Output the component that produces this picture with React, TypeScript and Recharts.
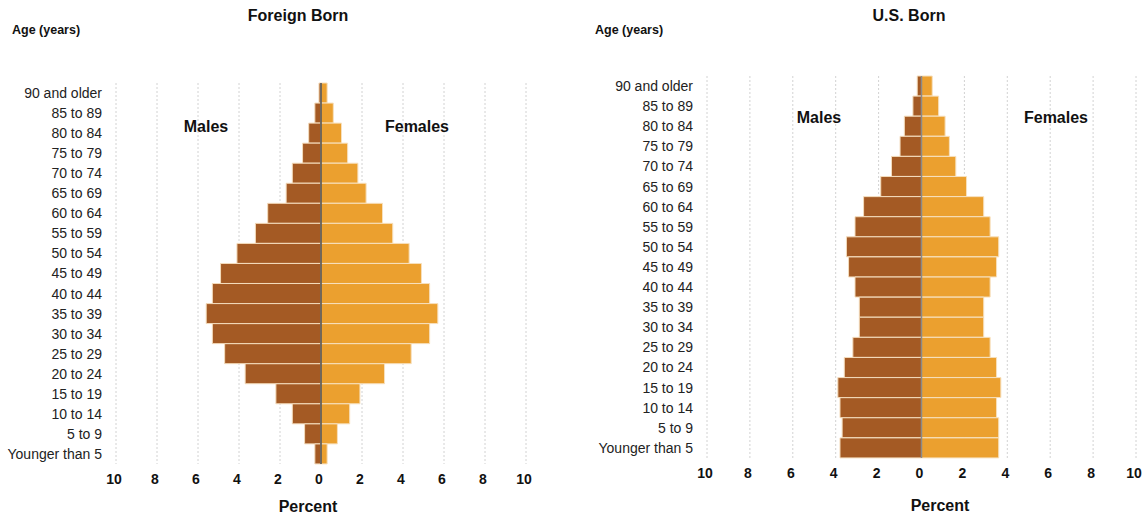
import React from 'react';
import { BarChart, Bar, XAxis, YAxis, CartesianGrid, ReferenceLine } from 'recharts';

const ages = [
  '90 and older', '85 to 89', '80 to 84', '75 to 79', '70 to 74', '65 to 69',
  '60 to 64', '55 to 59', '50 to 54', '45 to 49', '40 to 44', '35 to 39',
  '30 to 34', '25 to 29', '20 to 24', '15 to 19', '10 to 14', '5 to 9', 'Younger than 5',
];

const foreignMale = [0.1, 0.3, 0.6, 0.9, 1.4, 1.7, 2.6, 3.2, 4.1, 4.9, 5.3, 5.6, 5.3, 4.7, 3.7, 2.2, 1.4, 0.8, 0.3];
const foreignFemale = [0.3, 0.6, 1.0, 1.3, 1.8, 2.2, 3.0, 3.5, 4.3, 4.9, 5.3, 5.7, 5.3, 4.4, 3.1, 1.9, 1.4, 0.8, 0.3];
const usMale = [0.2, 0.4, 0.8, 1.0, 1.4, 1.9, 2.7, 3.1, 3.5, 3.4, 3.1, 2.9, 2.9, 3.2, 3.6, 3.9, 3.8, 3.7, 3.8];
const usFemale = [0.5, 0.8, 1.1, 1.3, 1.6, 2.1, 2.9, 3.2, 3.6, 3.5, 3.2, 2.9, 2.9, 3.2, 3.5, 3.7, 3.5, 3.6, 3.6];

const xTicks = [-10, -8, -6, -4, -2, 0, 2, 4, 6, 8, 10];

const MALE = '#A45A24';
const FEMALE = '#EBA02F';
const FONT = '"Liberation Sans", Arial, sans-serif';

function build(male: number[], female: number[]) {
  return ages.map((age, i) => ({ age, male: -male[i], female: female[i] }));
}

type PyramidProps = {
  data: { age: string; male: number; female: number }[];
  left: number;
  width: number;
  margin: { top: number; right: number; bottom: number; left: number };
  zeroColor: string;
};

function Pyramid({ data, left, width, margin, zeroColor }: PyramidProps) {
  return (
    <div style={{ position: 'absolute', left, top: 0 }}>
      <BarChart
        width={width}
        height={516}
        data={data}
        layout="vertical"
        margin={margin}
        barCategoryGap={0}
        stackOffset="sign"
      >
        <CartesianGrid horizontal={false} stroke="#d2d2d2" strokeDasharray="2 2" />
        <XAxis
          type="number"
          domain={[-10, 10]}
          ticks={xTicks}
          tickFormatter={(v: number) => String(Math.abs(v))}
          axisLine={false}
          tickLine={false}
          tickMargin={4}
          height={30}
          interval={0}
          tick={{ fill: '#111', fontSize: 14, fontWeight: 700, fontFamily: FONT, dx: -2 }}
        />
        <YAxis
          type="category"
          dataKey="age"
          width={110}
          axisLine={false}
          tickLine={false}
          tickMargin={8}
          interval={0}
          tick={{ fill: '#222', fontSize: 14, fontFamily: FONT }}
        />
        <Bar dataKey="male" stackId="a" fill={MALE} stroke="#f4dcbc" strokeWidth={1} isAnimationActive={false} />
        <Bar dataKey="female" stackId="a" fill={FEMALE} stroke="#f7e0bd" strokeWidth={1} isAnimationActive={false} />
        <ReferenceLine x={0} stroke={zeroColor} strokeWidth={1.5} />
      </BarChart>
    </div>
  );
}

export default function App() {
  const foreign = build(foreignMale, foreignFemale);
  const us = build(usMale, usFemale);
  const bold = { fontFamily: FONT, fontWeight: 700, fill: '#111' } as const;
  return (
    <div style={{ position: 'fixed', left: 0, top: 0, width: 1147, height: 516, background: '#fff', overflow: 'hidden' }}>
      <Pyramid data={foreign} left={0} width={560} margin={{ top: 83, right: 34, bottom: 22, left: 6 }} zeroColor="#4a4a4a" />
      <Pyramid data={us} left={580} width={567} margin={{ top: 76, right: 11, bottom: 28, left: 17 }} zeroColor="#8a8a8a" />
      <svg width={1147} height={516} style={{ position: 'absolute', left: 0, top: 0, pointerEvents: 'none' }}>
        <text x={298} y={21} textAnchor="middle" fontSize={16} {...bold}>Foreign Born</text>
        <text x={12} y={34} fontSize={12.5} {...bold}>Age (years)</text>
        <text x={206} y={132} textAnchor="middle" fontSize={16} {...bold}>Males</text>
        <text x={417} y={132} textAnchor="middle" fontSize={16} {...bold}>Females</text>
        <text x={308} y={512} textAnchor="middle" fontSize={16} {...bold}>Percent</text>

        <text x={909} y={21} textAnchor="middle" fontSize={16} {...bold}>U.S. Born</text>
        <text x={595} y={34} fontSize={12.5} {...bold}>Age (years)</text>
        <text x={819} y={123} textAnchor="middle" fontSize={16} {...bold}>Males</text>
        <text x={1056} y={123} textAnchor="middle" fontSize={16} {...bold}>Females</text>
        <text x={940} y={511} textAnchor="middle" fontSize={16} {...bold}>Percent</text>
      </svg>
    </div>
  );
}
